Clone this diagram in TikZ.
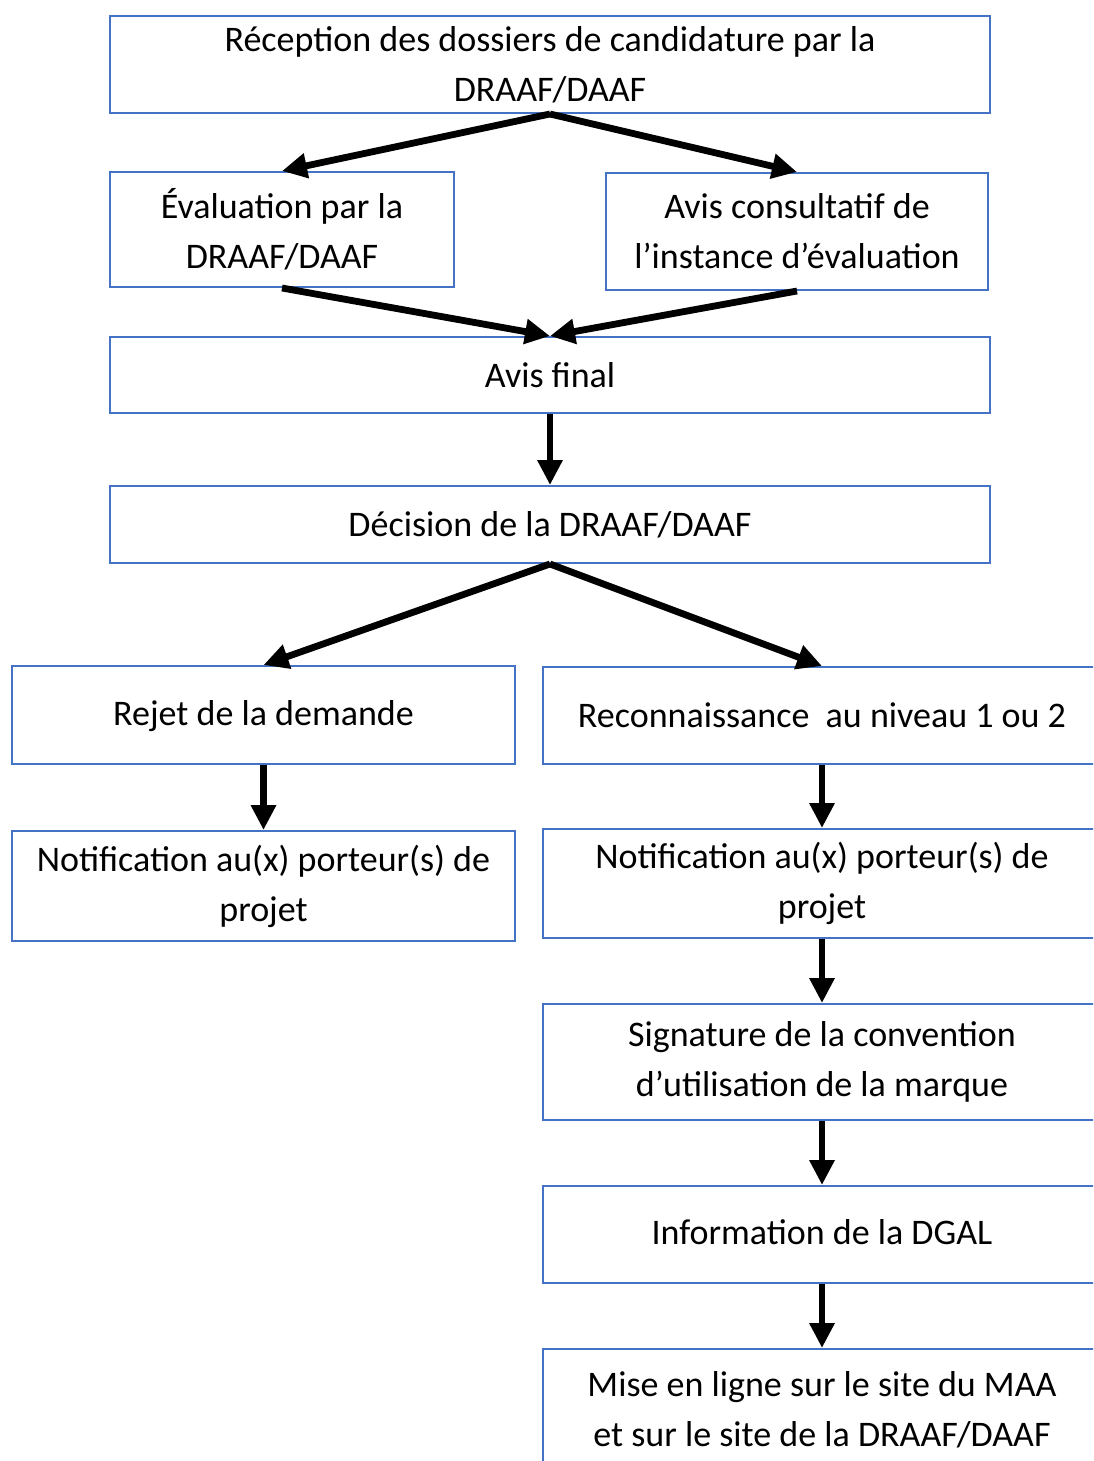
\documentclass[tikz,border=0pt]{standalone}
\usepackage{fontspec}
\setmainfont{Carlito}
\usetikzlibrary{arrows.meta}

\begin{document}
\begin{tikzpicture}[x=0.5pt,y=-0.5pt,
    etape/.style={draw=boxblue,line width=1pt,
      align=center,inner sep=0pt,font=\fontsize{18pt}{25pt}\selectfont},
    fleche/.style={-{Triangle[width=12pt,length=12.5pt]},line width=3.4pt,black}]
    \definecolor{boxblue}{HTML}{4472C4}
    \useasboundingbox (0,0) rectangle (1093,1461);
    \clip (0,0) rectangle (1093,1461);
    % colonne principale
    \node[etape,minimum width=440pt,minimum height=48.5pt] (recep) at (550,64.5)
      {Réception des dossiers de candidature par la\\DRAAF/DAAF};
    \node[etape,minimum width=172pt,minimum height=57.5pt] (eval) at (282,229.5)
      {Évaluation par la\\DRAAF/DAAF};
    \node[etape,minimum width=191pt,minimum height=58.5pt] (avis) at (797,231.5)
      {Avis consultatif de\\l’instance d’évaluation};
    \node[etape,minimum width=440pt,minimum height=38pt] (final) at (550,375)
      {Avis final};
    \node[etape,minimum width=440pt,minimum height=38.5pt] (decision) at (550,524.5)
      {Décision de la DRAAF/DAAF};
    % branche rejet
    \node[etape,minimum width=251.5pt,minimum height=49pt] (rejet) at (263.5,715)
      {\strut Rejet de la demande};
    \node[etape,minimum width=251.5pt,minimum height=55pt] (notifrejet) at (263.5,886)
      {Notification au(x) porteur(s) de\\projet};
    % branche reconnaissance
    \node[etape,minimum width=279pt,minimum height=48.5pt] (recon) at (822,715.5)
      {Reconnaissance\ \ au niveau 1 ou 2};
    \node[etape,minimum width=279pt,minimum height=54.5pt] (notifrecon) at (822,883.5)
      {Notification au(x) porteur(s) de\\projet};
    \node[etape,minimum width=279pt,minimum height=58pt] (signature) at (822,1062)
      {Signature de la convention\\d’utilisation de la marque};
    \node[etape,minimum width=279pt,minimum height=48.5pt] (dgal) at (822,1234.5)
      {\strut Information de la DGAL};
    \node[etape,minimum width=279pt,minimum height=61pt] (enligne) at (822,1410)
      {Mise en ligne sur le site du MAA\\et sur le site de la DRAAF/DAAF};
    % fleches
    \draw[fleche] (recep.south) -- (eval.north);
    \draw[fleche] (recep.south) -- (avis.north);
    \draw[fleche] (eval.south) -- (final.north);
    \draw[fleche] (avis.south) -- (final.north);
    \draw[fleche] (final) -- (decision);
    \draw[fleche] (decision.south) -- (rejet.north);
    \draw[fleche] (decision.south) -- (recon.north);
    \draw[fleche] (rejet) -- (notifrejet);
    \draw[fleche] (recon) -- (notifrecon);
    \draw[fleche] (notifrecon) -- (signature);
    \draw[fleche] (signature) -- (dgal);
    \draw[fleche] (dgal) -- (enligne);
\end{tikzpicture}
\end{document}
